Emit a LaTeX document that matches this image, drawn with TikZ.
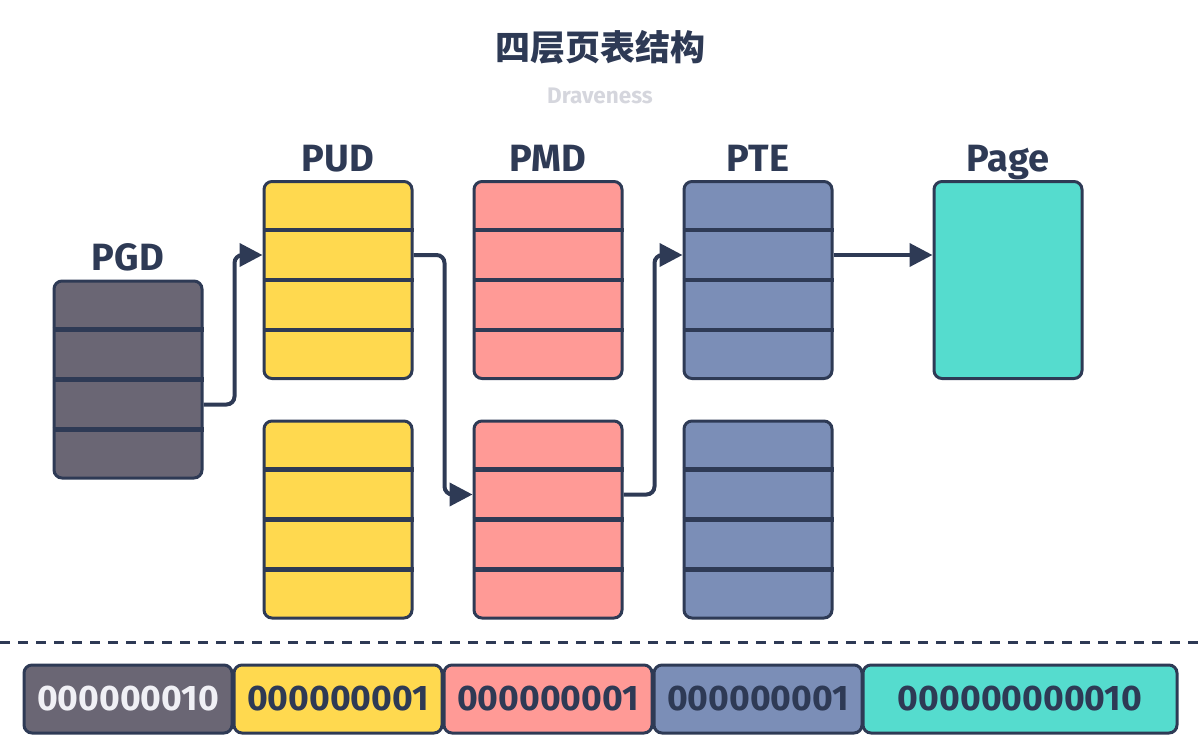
\documentclass[tikz,border=0pt]{standalone}
\usepackage{fontspec}
\setmainfont{Fira Sans}
\newfontfamily\cjk{Noto Sans CJK SC}
\usetikzlibrary{calc,arrows.meta}
\definecolor{edge}{HTML}{2E3A55}
\definecolor{pgdfill}{HTML}{6A6674}
\definecolor{pudfill}{HTML}{FFD94F}
\definecolor{pmdfill}{HTML}{FF9A96}
\definecolor{ptefill}{HTML}{7B8EB7}
\definecolor{pagefill}{HTML}{55DCCE}
\definecolor{light}{HTML}{F0F0F5}
\definecolor{subtle}{HTML}{D5D6DD}
\newcommand\pgtable[3]{%
  \node[tbl, fill=#3] (#1) at (#2) {};
  \foreach \f in {0.25,0.5,0.75}
    \draw[div] ($(#1.north west)!\f!(#1.south west)$) -- ($(#1.north east)!\f!(#1.south east)$);
}
\begin{document}
\begin{tikzpicture}[x=1pt,y=-1pt,
  tbl/.style={draw=edge, line width=3pt, rounded corners=8pt, minimum width=148pt, minimum height=197pt, inner sep=0pt},
  div/.style={draw=edge, line width=4.5pt},
  conn/.style={draw=edge, line width=4pt, rounded corners=8pt, -{Triangle[length=23pt,width=23pt]}},
  lbl/.style={font=\fontsize{38}{40}\selectfont\bfseries, text=edge, anchor=base, inner sep=0pt},
  bits/.style={draw=edge, line width=3pt, rounded corners=8pt, minimum height=68pt, inner sep=0pt, font=\fontsize{35.5}{38}\selectfont\bfseries, text=edge}]
\useasboundingbox (0,0) rectangle (1200,750);
\node[font={\fontsize{35}{40}\selectfont\cjk\bfseries}, text=edge] (title) at (600,47) {四层页表结构};
\node[font={\fontsize{22.5}{26}\selectfont\bfseries}, text=subtle] (author) at (600,96) {Draveness};
% tables
\pgtable{pgd}{128,379.5}{pgdfill}
\pgtable{pud1}{338,280}{pudfill}
\pgtable{pud2}{338,519.5}{pudfill}
\pgtable{pmd1}{548,280}{pmdfill}
\pgtable{pmd2}{548,519.5}{pmdfill}
\pgtable{pte1}{758,280}{ptefill}
\pgtable{pte2}{758,519.5}{ptefill}
\node[tbl, fill=pagefill] (page) at (1008,280) {};
% labels
\node[lbl] (lpgd) at (128,270) {PGD};
\node[lbl] (lpud) at (338,171) {PUD};
\node[lbl] (lpmd) at (548,171) {PMD};
\node[lbl] (lpte) at (758,171) {PTE};
\node[lbl] (lpage) at (1008,171) {Page};
% connectors
\draw[conn] ($(pgd.north east)!0.625!(pgd.south east)$) -- ++(31,0) |- ($(pud1.north west)!0.375!(pud1.south west)$);
\draw[conn] ($(pud1.north east)!0.375!(pud1.south east)$) -- ++(31,0) |- ($(pmd2.north west)!0.375!(pmd2.south west)$);
\draw[conn] ($(pmd2.north east)!0.375!(pmd2.south east)$) -- ++(31,0) |- ($(pte1.north west)!0.375!(pte1.south west)$);
\draw[conn] ($(pte1.north east)!0.375!(pte1.south east)$) -- ($(page.north west)!0.375!(page.south west)$);
% dashed separator
\coordinate (dl) at (0,642);
\coordinate (dr) at (1200,642);
\draw[edge, line width=3pt, dash pattern=on 10pt off 8pt] (dl) -- (dr);
% address bits
\node[bits, fill=pgdfill, text=light, minimum width=208pt] (b1) at (128,699) {000000010};
\node[bits, fill=pudfill, minimum width=208pt] (b2) at (338,699) {000000001};
\node[bits, fill=pmdfill, minimum width=208pt] (b3) at (548,699) {000000001};
\node[bits, fill=ptefill, minimum width=208pt] (b4) at (758,699) {000000001};
\node[bits, fill=pagefill, minimum width=314pt] (b5) at (1020,699) {000000000010};
\end{tikzpicture}
\end{document}
